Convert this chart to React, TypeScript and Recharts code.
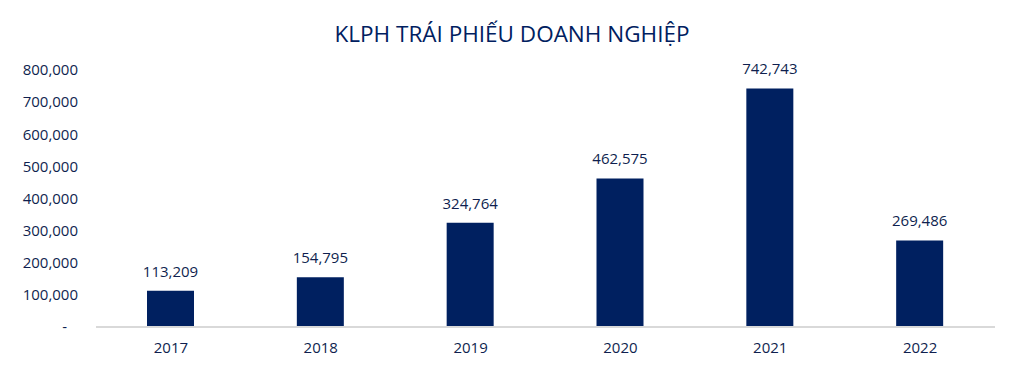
import { BarChart, Bar, XAxis, YAxis, LabelList } from "recharts";

const years = ["2017", "2018", "2019", "2020", "2021", "2022"];
const issuance = [113209, 154795, 324764, 462575, 742743, 269486];
const yTicks = [0, 100000, 200000, 300000, 400000, 500000, 600000, 700000, 800000];

const data = years.map((year, i) => ({ year, value: issuance[i] }));

const navy = "#002060";
const textColor = "#0f1f4f";
const font = "'Open Sans', sans-serif";

const fmt = (v: number) => v.toLocaleString("en-US");

function YTick(props: any) {
  const { x, y, payload } = props;
  const isZero = payload.value === 0;
  return (
    <text
      x={isZero ? x - 11 : x}
      y={y}
      dy="0.35em"
      textAnchor="end"
      fill={textColor}
      fontSize={15}
      fontFamily={font}
    >
      {isZero ? "-" : fmt(payload.value)}
    </text>
  );
}

export default function App() {
  return (
    <div style={{ position: "absolute", left: 0, top: 0, width: 1024, height: 370, background: "#fff" }}>
      <div
        style={{
          position: "absolute",
          top: 18,
          left: 0,
          width: 1024,
          textAlign: "center",
          fontFamily: font,
          fontSize: 22.5,
          color: navy,
          lineHeight: "32px",
        }}
      >
        KLPH TRÁI PHIẾU DOANH NGHIỆP
      </div>
      <BarChart
        width={1024}
        height={370}
        data={data}
        margin={{ top: 70, right: 29, bottom: 13, left: 0 }}
      >
        <XAxis
          dataKey="year"
          height={30}
          tickLine={false}
          tickSize={0}
          tickMargin={15}
          axisLine={{ stroke: "#d9d9d9", strokeWidth: 2 }}
          tick={{ fill: textColor, fontSize: 15, fontFamily: font }}
        />
        <YAxis
          width={96}
          domain={[0, 800000]}
          ticks={yTicks}
          axisLine={false}
          tickLine={false}
          tickSize={0}
          tickMargin={18}
          tick={<YTick />}
        />
        <Bar dataKey="value" fill={navy} barSize={47} isAnimationActive={false}>
          <LabelList
            dataKey="value"
            position="top"
            offset={14}
            formatter={(v: any) => fmt(Number(v))}
            fill={textColor}
            fontSize={15}
            fontFamily={font}
          />
        </Bar>
      </BarChart>
    </div>
  );
}
